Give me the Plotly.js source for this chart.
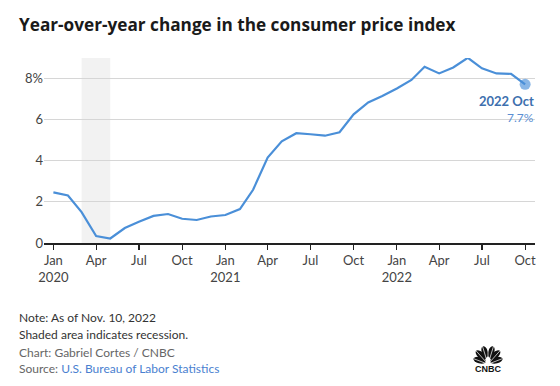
<!DOCTYPE html>
<html>
<head>
<meta charset="utf-8">
<script src="https://cdn.plot.ly/plotly-3.0.1.min.js"></script>
<style>html,body{margin:0;padding:0;background:#fff;}#chart{width:560px;height:386px;}</style>
</head>
<body>
<div id="chart"></div>
<script>
const months = [
  '2020-01-01','2020-02-01','2020-03-01','2020-04-01','2020-05-01','2020-06-01',
  '2020-07-01','2020-08-01','2020-09-01','2020-10-01','2020-11-01','2020-12-01',
  '2021-01-01','2021-02-01','2021-03-01','2021-04-01','2021-05-01','2021-06-01',
  '2021-07-01','2021-08-01','2021-09-01','2021-10-01','2021-11-01','2021-12-01',
  '2022-01-01','2022-02-01','2022-03-01','2022-04-01','2022-05-01','2022-06-01',
  '2022-07-01','2022-08-01','2022-09-01','2022-10-01'
];
const cpiYoY = [
  2.46, 2.31, 1.50, 0.34, 0.22, 0.73, 1.03, 1.32, 1.41, 1.18, 1.12, 1.29,
  1.36, 1.65, 2.59, 4.16, 4.95, 5.34, 5.29, 5.22, 5.39, 6.26, 6.84, 7.15,
  7.52, 7.93, 8.57, 8.25, 8.54, 9.01, 8.50, 8.25, 8.23, 7.72
];
const xTickVals = ['2020-01-01','2020-04-01','2020-07-01','2020-10-01','2021-01-01','2021-04-01',
  '2021-07-01','2021-10-01','2022-01-01','2022-04-01','2022-07-01','2022-10-01'];
const xTickText = ['Jan<br>2020','Apr','Jul','Oct','Jan<br>2021','Apr','Jul','Oct','Jan<br>2022','Apr','Jul','Oct'];
const yTickVals = [0, 2, 4, 6, 8];
const yTickText = ['0', '2', '4', '6', '8%'];
const recession = ['2020-03-01', '2020-05-01'];
const lastLabel = '2022 Oct';
const lastValueText = '7.7%';

const FONT = 'Lato, "Open Sans", sans-serif';
const TITLE_FONT = '"Open Sans", Lato, sans-serif';
const W = 560, H = 386;
const M = {l: 44, r: 25, t: 58, b: 143};
const PW = W - M.l - M.r, PH = H - M.t - M.b;
const px = x => (x - M.l) / PW;
const py = y => (H - M.b - y) / PH;

const lastIdx = months.length - 1;

const traces = [
  {
    x: months, y: cpiYoY, type: 'scatter', mode: 'lines',
    line: {color: '#4a8fd8', width: 2.2, shape: 'linear'},
    hoverinfo: 'skip', showlegend: false
  },
  {
    x: [months[lastIdx]], y: [cpiYoY[lastIdx]], type: 'scatter', mode: 'markers',
    marker: {color: 'rgba(74,143,216,0.65)', size: 11},
    hoverinfo: 'skip', showlegend: false
  }
];

const peacock = 'data:image/svg+xml;utf8,' + encodeURIComponent(
  '<svg xmlns="http://www.w3.org/2000/svg" viewBox="0 0 40 24">' +
  '<g fill="#111">' +
  '<ellipse cx="9.5" cy="18" rx="8" ry="4" transform="rotate(15 9.5 18)"/>' +
  '<ellipse cx="11" cy="11.5" rx="8" ry="4" transform="rotate(42 11 11.5)"/>' +
  '<ellipse cx="16" cy="7.5" rx="7.5" ry="3.8" transform="rotate(72 16 7.5)"/>' +
  '<ellipse cx="24" cy="7.5" rx="7.5" ry="3.8" transform="rotate(108 24 7.5)"/>' +
  '<ellipse cx="29" cy="11.5" rx="8" ry="4" transform="rotate(138 29 11.5)"/>' +
  '<ellipse cx="30.5" cy="18" rx="8" ry="4" transform="rotate(165 30.5 18)"/>' +
  '</g>' +
  '<g stroke="#fff" stroke-width="0.9">' +
  '<line x1="20" y1="23" x2="2" y2="16"/><line x1="20" y1="23" x2="5" y2="6"/>' +
  '<line x1="20" y1="23" x2="13" y2="0"/><line x1="20" y1="23" x2="20" y2="0"/>' +
  '<line x1="20" y1="23" x2="27" y2="0"/><line x1="20" y1="23" x2="35" y2="6"/>' +
  '<line x1="20" y1="23" x2="38" y2="16"/>' +
  '</g></svg>');

const layout = {
  width: W, height: H,
  margin: M,
  paper_bgcolor: '#fff', plot_bgcolor: '#fff',
  font: {family: FONT, color: '#333', size: 13},
  title: {
    text: '<b>Year-over-year change in the consumer price index</b>',
    font: {family: TITLE_FONT, size: 17.2, color: '#1a1a1a'},
    xref: 'container', yref: 'container',
    x: 19 / W, xanchor: 'left', y: 1 - 25 / H, yanchor: 'middle'
  },
  xaxis: {
    type: 'date',
    range: ['2019-12-12', '2022-10-22'],
    tickmode: 'array', tickvals: xTickVals, ticktext: xTickText,
    ticks: 'outside', ticklen: 5, tickwidth: 1.2, tickcolor: '#222',
    showline: true, linecolor: '#222', linewidth: 1.5,
    showgrid: false, zeroline: false,
    tickfont: {family: FONT, size: 13, color: '#444'},
    fixedrange: true
  },
  yaxis: {
    range: [0, 9],
    tickmode: 'array', tickvals: yTickVals, ticktext: yTickText,
    showgrid: true, gridcolor: '#d6d6d6', gridwidth: 1,
    zeroline: false, showline: false, ticks: '',
    tickfont: {family: FONT, size: 13, color: '#444'},
    fixedrange: true
  },
  shapes: [
    {type: 'rect', xref: 'x', yref: 'paper', x0: recession[0], x1: recession[1], y0: 0, y1: 1,
     fillcolor: '#f2f2f2', line: {width: 0}, layer: 'below'}
  ],
  images: [
    {source: peacock, xref: 'paper', yref: 'paper', x: px(472), y: py(346), sizex: 32 / PW, sizey: 19 / PH,
     xanchor: 'left', yanchor: 'top', sizing: 'stretch', layer: 'above'}
  ],
  annotations: [
    {xref: 'paper', yref: 'paper', x: px(536), y: py(101), xanchor: 'right', yanchor: 'middle',
     text: '<b>' + lastLabel + '</b>', showarrow: false,
     font: {family: FONT, size: 13, color: '#3d6fae'}},
    {xref: 'paper', yref: 'paper', x: px(536), y: py(117), xanchor: 'right', yanchor: 'middle',
     text: lastValueText, showarrow: false,
     font: {family: FONT, size: 12, color: '#5b8fd3'}},
    {xref: 'paper', yref: 'paper', x: px(17), y: py(317), xanchor: 'left', yanchor: 'middle',
     text: 'Note: As of Nov. 10, 2022', showarrow: false,
     font: {family: FONT, size: 12, color: '#333'}},
    {xref: 'paper', yref: 'paper', x: px(17), y: py(334), xanchor: 'left', yanchor: 'middle',
     text: 'Shaded area indicates recession.', showarrow: false,
     font: {family: FONT, size: 12, color: '#333'}},
    {xref: 'paper', yref: 'paper', x: px(17), y: py(352), xanchor: 'left', yanchor: 'middle',
     text: 'Chart: Gabriel Cortes / CNBC', showarrow: false,
     font: {family: FONT, size: 12, color: '#666'}},
    {xref: 'paper', yref: 'paper', x: px(17), y: py(368), xanchor: 'left', yanchor: 'middle',
     text: 'Source: <span style="color:#4a7fd0">U.S. Bureau of Labor Statistics</span>', showarrow: false,
     font: {family: FONT, size: 12, color: '#666'}},
    {xref: 'paper', yref: 'paper', x: px(488), y: py(369), xanchor: 'center', yanchor: 'middle',
     text: '<b>CNBC</b>', showarrow: false,
     font: {family: 'Liberation Sans, Arial, sans-serif', size: 9, color: '#111'}}
  ]
};

Plotly.newPlot('chart', traces, layout, {staticPlot: true, displayModeBar: false});
</script>
</body>
</html>
